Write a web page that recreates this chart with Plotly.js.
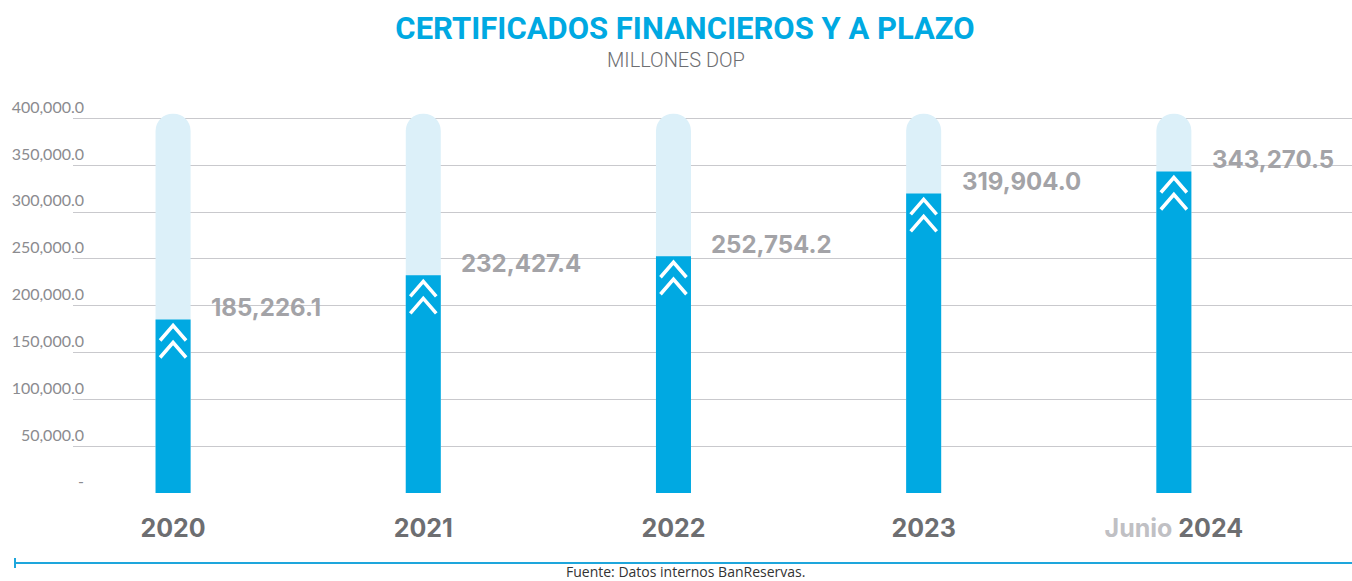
<!DOCTYPE html>
<html>
<head>
<meta charset="utf-8">
<script src="https://cdn.plot.ly/plotly-3.0.1.min.js"></script>
<style>html,body{margin:0;padding:0;background:#fff;}#chart{width:1352px;height:581px;}</style>
</head>
<body>
<div id="chart"></div>
<script>
const categories = ["2020", "2021", "2022", "2023", "Junio 2024"];
const categoryTickText = ["2020", "2021", "2022", "2023", "<span style='color:#c0c0c4'>Junio</span> 2024"];
const values = [185226.1, 232427.4, 252754.2, 319904.0, 343270.5];
const capacity = [405000, 405000, 405000, 405000, 405000];
const yTickVals = [0, 50000, 100000, 150000, 200000, 250000, 300000, 350000, 400000];
const yTickText = ["-", "50,000.0", "100,000.0", "150,000.0", "200,000.0", "250,000.0", "300,000.0", "350,000.0", "400,000.0"];

const idx = categories.map((c, i) => i);
const yMax = 410000;
const margin = {l: 73, r: 0, t: 109, b: 88};
const plotH = 581 - margin.t - margin.b;
const plotW = 1352 - margin.l - margin.r;
const xRange = [-0.4, 4.712];
const pxY = yMax / plotH;
const pxX = (xRange[1] - xRange[0]) / plotW;

// chevrons derived from each bar's value
const chevX = [], chevY = [];
values.forEach((v, i) => {
  [6, 23].forEach(off => {
    const apex = v - off * pxY;
    const end = apex - 15 * pxY;
    chevX.push(i - 13 * pxX, i, i + 13 * pxX, null);
    chevY.push(end, apex, end, null);
  });
});

const fmt = v => v.toLocaleString('en-US', {minimumFractionDigits: 1, maximumFractionDigits: 1});

const traces = [
  {type: 'bar', x: idx, y: capacity, width: 0.14, marker: {color: '#dcf0f9', cornerradius: '50%'}, hoverinfo: 'skip'},
  {type: 'bar', x: idx, y: values, width: 0.14, marker: {color: '#00a9e2'}, hoverinfo: 'skip'},
  {type: 'scatter', mode: 'lines', x: chevX, y: chevY, line: {color: '#ffffff', width: 3.5}, hoverinfo: 'skip', connectgaps: false, cliponaxis: false}
];

const annotations = values.map((v, i) => ({
  x: i, y: v, xref: 'x', yref: 'y', text: fmt(v), showarrow: false,
  xanchor: 'left', yanchor: 'middle', xshift: 36, yshift: 12,
  font: {family: 'Inter', size: 24, weight: 700, color: '#a3a3a7'}
}));
annotations.push({
  xref: 'paper', yref: 'paper', x: (685 - margin.l) / plotW, xanchor: 'center', y: 0, yanchor: 'middle', yshift: -(571 - 493),
  text: 'Fuente: Datos internos BanReservas.', showarrow: false,
  font: {family: 'Open Sans', size: 14, color: '#333333'}
});
annotations.push({
  xref: 'paper', yref: 'paper', x: (676 - margin.l) / plotW, xanchor: 'center', y: 1, yanchor: 'middle', yshift: 109 - 60,
  text: 'MILLONES DOP', showarrow: false,
  font: {family: 'Roboto', size: 20, weight: 300, color: '#6d6e71'}
});

const layout = {
  width: 1352, height: 581,
  margin: margin,
  paper_bgcolor: '#ffffff', plot_bgcolor: '#ffffff',
  showlegend: false,
  barmode: 'overlay',
  title: {
    text: 'CERTIFICADOS FINANCIEROS Y A PLAZO',
    x: 685 / 1352, xanchor: 'center', y: 1 - 28 / 581, yanchor: 'middle',
    font: {family: 'Roboto', size: 31, weight: 700, color: '#00a9e2'}
  },
  xaxis: {
    range: xRange, tickmode: 'array', tickvals: idx, ticktext: categoryTickText,
    showgrid: false, zeroline: false, showline: false, ticks: '',
    tickfont: {family: 'Inter', size: 25, weight: 700, color: '#6d6e71'},
    ticklabelstandoff: 18, fixedrange: true
  },
  yaxis: {
    range: [0, yMax], tickmode: 'array', tickvals: yTickVals, ticktext: yTickText,
    showgrid: true, gridcolor: '#c9c9cd', gridwidth: 1, zeroline: false, showline: false, ticks: '',
    tickfont: {family: 'Lato', size: 16, color: '#8b8b8f'},
    ticklabelposition: 'outside top', ticklabelstandoff: -12, fixedrange: true
  },
  shapes: [
    {type: 'line', xref: 'paper', yref: 'paper', x0: (15 - margin.l) / plotW, x1: 1, y0: -70 / plotH, y1: -70 / plotH, line: {color: '#1ea6dc', width: 2}},
    {type: 'line', xref: 'paper', yref: 'paper', x0: (15 - margin.l) / plotW, x1: (15 - margin.l) / plotW, y0: -65 / plotH, y1: -75 / plotH, line: {color: '#1ea6dc', width: 2}}
  ],
  annotations: annotations
};

Plotly.newPlot('chart', traces, layout, {displayModeBar: false, staticPlot: true});
</script>
</body>
</html>
